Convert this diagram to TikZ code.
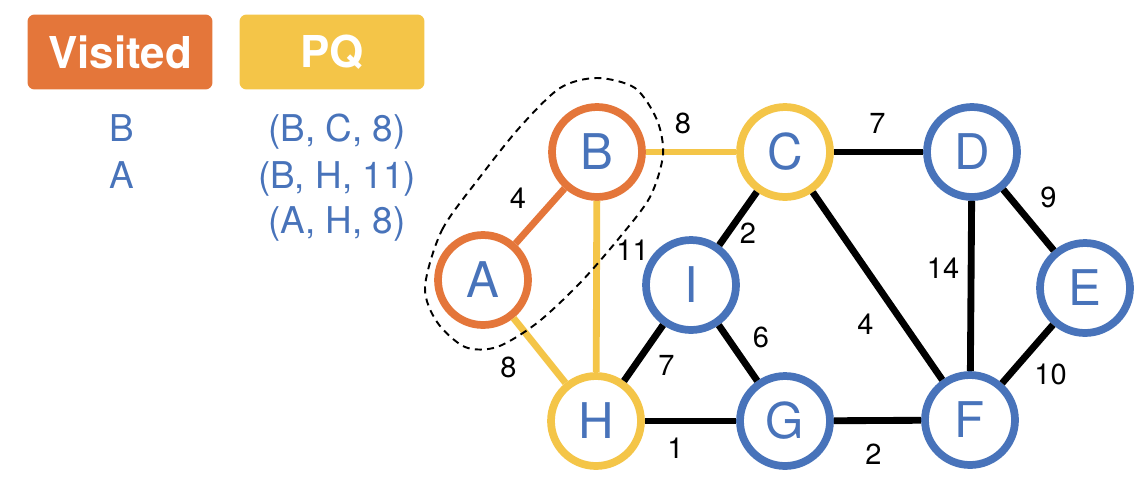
\documentclass[tikz,border=0pt]{standalone}
\usepackage{fontspec}
\setmainfont{TeX Gyre Heros}
\usetikzlibrary{
  arrows.meta,calc,positioning
}
\definecolor{VisitOrange}{RGB}{228,118,58}
\definecolor{QueueYellow}{RGB}{244,197,72}
\definecolor{VertexBlue}{RGB}{72,115,186}
\tikzset{
  vertex/.style={circle,draw=VertexBlue,fill=white,line width=4.4pt,
    minimum size=1.8cm,inner sep=0pt,text=VertexBlue,
    font=\fontsize{28}{28}\selectfont},
  visitedv/.style={vertex,draw=VisitOrange},
  queuedv/.style={vertex,draw=QueueYellow},
  edge/.style={line width=3.9pt},
  wlabel/.style={font=\fontsize{16.5}{16.5}\selectfont,inner sep=0pt},
  legendbox/.style={rounded corners=4pt,minimum width=3.7cm,
    minimum height=1.5cm,text=white,font=\fontsize{25}{25}\selectfont\bfseries},
  listtext/.style={text=VertexBlue,font=\fontsize{21}{21}\selectfont,
    inner sep=0pt,anchor=base}
}

\begin{document}
\begin{tikzpicture}[x=0.02cm,y=-0.02cm,>=Latex]
      \useasboundingbox (0,0) rectangle (1148,481);
      % legend
      \node[legendbox,fill=VisitOrange] (visited) at (120,52) {Visited};
      \node[legendbox,fill=QueueYellow] (pq) at (332,52) {PQ};
      \node[listtext] (vis1) at (122,141) {B};
      \node[listtext] (vis2) at (122,188) {A};
      \node[listtext] (pq1) at (337,141) {(B, C, 8)};
      \node[listtext] (pq2) at (337,188) {(B, H, 11)};
      \node[listtext] (pq3) at (337,233) {(A, H, 8)};
      % vertices
      \node[visitedv] (A) at (483,280) {A};
      \node[visitedv] (B) at (597,152) {B};
      \node[queuedv] (C) at (785,152) {C};
      \node[vertex] (D) at (972,152) {D};
      \node[vertex] (E) at (1085,288) {E};
      \node[vertex] (I) at (691,285) {I};
      \node[queuedv] (H) at (596,421) {H};
      \node[vertex] (G) at (785,421) {G};
      \node[vertex] (F) at (970,420) {F};
      % edges
      \draw[edge,VisitOrange] (A) -- node[wlabel,text=black,midway,shift={(-22,-18)}] {4} (B);
      \draw[edge,QueueYellow] (B) -- node[wlabel,text=black,midway,shift={(-8,-29)}] {8} (C);
      \draw[edge,QueueYellow] (B) -- node[wlabel,text=black,midway,shift={(36,-36)}] {11} (H);
      \draw[edge,QueueYellow] (A) -- node[wlabel,text=black,midway,shift={(-31,17)}] {8} (H);
      \draw[edge] (C) -- node[wlabel,midway,shift={(-1,-29)}] {7} (D);
      \draw[edge] (C) -- node[wlabel,midway,shift={(10,15)}] {2} (I);
      \draw[edge] (I) -- node[wlabel,midway,shift={(23,12)}] {7} (H);
      \draw[edge] (I) -- node[wlabel,midway,shift={(23,-16)}] {6} (G);
      \draw[edge] (H) -- node[wlabel,midway,shift={(-15,27)}] {1} (G);
      \draw[edge] (G) -- node[wlabel,midway,shift={(-4,34)}] {2} (F);
      \draw[edge] (C) -- node[wlabel,midway,shift={(-12,38)}] {4} (F);
      \draw[edge] (D) -- node[wlabel,midway,shift={(-28,-18)}] {14} (F);
      \draw[edge] (D) -- node[wlabel,midway,shift={(20,-23)}] {9} (E);
      \draw[edge] (E) -- node[wlabel,midway,shift={(23,20)}] {10} (F);
      % visited set
      \draw[line width=1.1pt,dash pattern=on 4pt off 3pt]
        plot[smooth cycle] coordinates {(425,287) (442,230) (480,177) (520,127)
          (560,88) (597,78) (635,88) (657,120) (663,155) (650,197) (620,237)
          (580,283) (537,323) (497,347) (465,347) (437,322)};
    \end{tikzpicture}
\end{document}
